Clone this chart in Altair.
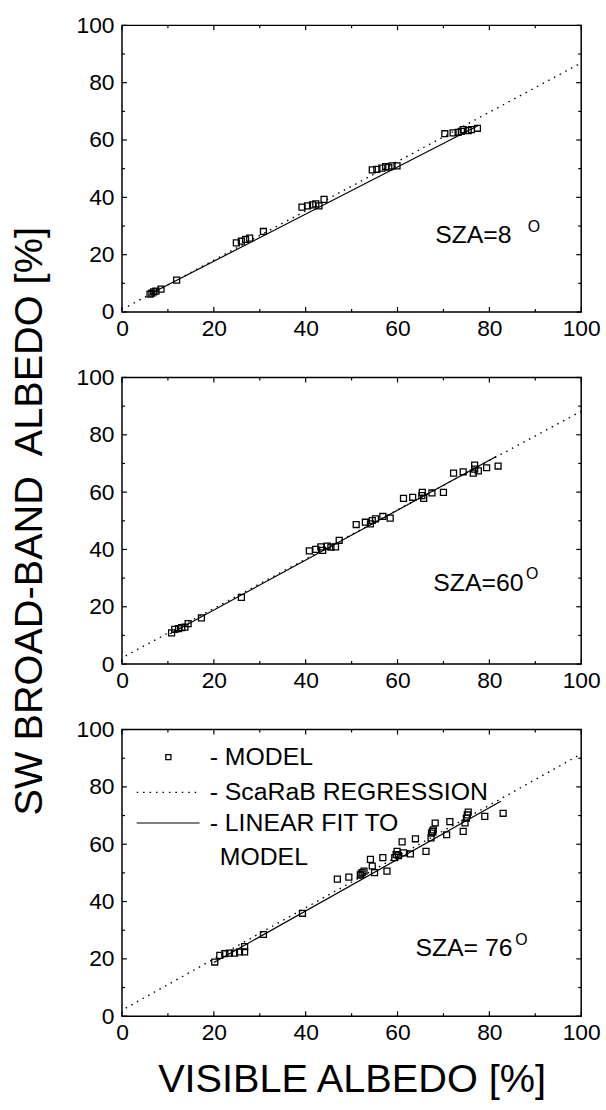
import altair as alt
import pandas as pd

FONT = "Liberation Sans"
W, H = 463, 289
TICKS = [0, 20, 40, 60, 80, 100]
MINOR = [10, 30, 50, 70, 90]

# ---------------- Panel 1 : SZA = 8 deg ----------------
p1_x = [6.1, 6.5, 6.9, 7.4, 8.5, 11.9, 24.9, 26.0, 26.9, 27.8, 30.8, 39.2, 40.4, 41.5,
        42.2, 42.9, 44.0, 54.5, 55.5, 56.6, 57.4, 58.1, 58.8, 59.9, 70.3, 72.1, 73.2,
        73.9, 74.3, 75.4, 76.1, 77.4]
p1_y = [6.2, 6.6, 7.0, 7.3, 8.0, 11.1, 24.1, 24.7, 25.3, 25.8, 28.1, 36.6, 37.0, 37.4,
        37.7, 37.0, 39.3, 49.6, 49.8, 50.2, 50.7, 50.5, 51.0, 51.0, 62.2, 62.5, 62.7,
        63.0, 63.6, 63.3, 63.6, 64.1]
p1_fit_x = [6.0, 77.5]
p1_fit_y = [6.2, 65.0]
p1_reg_x = [1.3, 100.0]
p1_reg_y = [2.0, 86.9]

# ---------------- Panel 2 : SZA = 60 deg ----------------
p2_x = [10.8, 11.5, 12.3, 13.0, 13.7, 14.4, 17.3, 26.0, 40.8, 42.2, 43.3, 43.7, 44.7,
        45.5, 46.5, 47.3, 51.0, 53.0, 54.1, 54.5, 55.2, 56.8, 58.4, 61.3, 63.3, 65.3,
        65.4, 65.7, 67.5, 70.0, 72.2, 74.3, 76.5, 76.8, 76.8, 77.6, 79.4, 81.9]
p2_y = [10.9, 12.1, 12.4, 12.7, 12.9, 14.1, 16.1, 23.3, 39.5, 40.0, 40.9, 39.7, 41.2,
        40.8, 40.9, 43.2, 48.7, 49.5, 48.9, 50.1, 50.7, 51.5, 50.9, 57.8, 58.2, 58.8,
        59.9, 57.8, 59.7, 59.9, 66.6, 67.1, 66.6, 68.0, 69.4, 67.4, 68.5, 69.1]
p2_fit_x = [10.5, 81.5]
p2_fit_y = [10.6, 72.4]
p2_reg_x = [0.8, 100.0]
p2_reg_y = [2.9, 88.2]

# ---------------- Panel 3 : SZA = 76 deg ----------------
p3_x = [20.2, 21.3, 22.4, 23.4, 24.5, 25.6, 26.7, 26.7, 30.8, 39.3, 46.9, 49.4, 51.9,
        52.0, 52.3, 52.7, 54.1, 54.5, 55.0, 56.8, 57.7, 59.4, 59.7, 59.9, 60.2, 61.0,
        61.3, 62.8, 63.9, 66.2, 67.3, 67.4, 67.6, 67.8, 68.2, 70.7, 71.4, 74.3, 74.7,
        75.0, 75.2, 75.4, 79.0, 83.0]
p3_y = [18.9, 21.2, 21.8, 22.0, 22.0, 22.4, 22.4, 24.3, 28.5, 35.9, 47.8, 48.5, 49.2,
        49.6, 50.1, 50.6, 54.7, 52.4, 50.1, 55.3, 50.6, 55.3, 56.4, 57.5, 56.0, 60.8,
        57.0, 56.6, 61.9, 57.5, 62.2, 63.9, 64.5, 65.0, 67.4, 63.3, 67.9, 64.5, 67.4,
        69.1, 70.2, 71.2, 69.7, 70.8]
p3_fit_x = [20.0, 82.5]
p3_fit_y = [18.7, 75.0]
p3_reg_x = [0.8, 100.0]
p3_reg_y = [2.8, 91.5]

SZA_TEXT = ["SZA=8", "SZA=60", "SZA= 76"]
LEGEND_TEXT = ["- MODEL", "- ScaRaB REGRESSION", "- LINEAR FIT TO", "MODEL"]

XS = alt.Scale(domain=[0, 100], nice=False, zero=False)
YS = alt.Scale(domain=[0, 100], nice=False, zero=False)


def axis_x(title):
    return alt.Axis(values=TICKS, domain=False, ticks=False, grid=False,
                    labelFont=FONT, labelFontSize=23, labelColor="black",
                    labelPadding=6, labelFlush=False,
                    titleFont=FONT, titleFontSize=40, titleFontWeight="normal",
                    titleColor="black", titlePadding=15)


def axis_y(title):
    return alt.Axis(values=TICKS, domain=False, ticks=False, grid=False,
                    labelFont=FONT, labelFontSize=23, labelColor="black",
                    labelPadding=8, labelFlush=False,
                    titleFont=FONT, titleFontSize=40, titleFontWeight="normal",
                    titleColor="black", titlePadding=27)


def panel(xs, ys, fx, fy, rx, ry, sza, sza_xy, deg_xy, xtitle=None, ytitle=None,
          legend=False):
    def XE(field="x:Q"):
        return alt.X(field, scale=XS, axis=axis_x(xtitle), title=xtitle)

    def YE(field="y:Q"):
        return alt.Y(field, scale=YS, axis=axis_y(ytitle), title=ytitle)

    pts = alt.Chart(pd.DataFrame({"x": xs, "y": ys})).mark_point(
        shape="square", filled=False, size=36, color="black", strokeWidth=1.3,
        opacity=1
    ).encode(x=XE(), y=YE())
    reg = alt.Chart(pd.DataFrame({"x": rx, "y": ry})).mark_line(
        color="black", strokeWidth=1.4, strokeDash=[1.5, 5]
    ).encode(x=XE(), y=YE())
    fit = alt.Chart(pd.DataFrame({"x": fx, "y": fy})).mark_line(
        color="black", strokeWidth=1.2
    ).encode(x=XE(), y=YE())
    lab = alt.Chart(pd.DataFrame({"t": [sza], "x": [sza_xy[0]], "y": [sza_xy[1]]})).mark_text(
        align="left", baseline="alphabetic", font=FONT, fontSize=25, color="black"
    ).encode(x=XE(), y=YE(), text="t:N")
    deg = alt.Chart(pd.DataFrame({"t": ["O"], "x": [deg_xy[0]], "y": [deg_xy[1]]})).mark_text(
        align="center", baseline="middle", font=FONT, fontSize=16, color="black"
    ).encode(x=XE(), y=YE(), text="t:N")
    layers = [pts, reg, fit, lab, deg]

    maj = pd.DataFrame({"x": TICKS, "y": TICKS})
    mnr = pd.DataFrame({"x": MINOR, "y": MINOR})
    for df, ln in ((maj, 5), (mnr, 3)):
        base = alt.Chart(df).mark_rule(color="black", strokeWidth=1.2)
        layers.append(base.encode(x=XE(), y=alt.value(H), y2=alt.value(H - ln)))
        layers.append(base.encode(x=XE(), y=alt.value(0), y2=alt.value(ln)))
        layers.append(base.encode(y=YE(), x=alt.value(0), x2=alt.value(ln)))
        layers.append(base.encode(y=YE(), x=alt.value(W), x2=alt.value(W - ln)))

    if legend:
        lp = alt.Chart(pd.DataFrame({"x": [10.1], "y": [90.4]})).mark_point(
            shape="square", filled=False, size=26, color="black", strokeWidth=1.3,
            opacity=1
        ).encode(x=XE(), y=YE())
        ld = alt.Chart(pd.DataFrame({"x": [3.2, 16.9], "y": [78.1, 78.1]})).mark_line(
            color="black", strokeWidth=1.4, strokeDash=[1.5, 5]
        ).encode(x=XE(), y=YE())
        ls = alt.Chart(pd.DataFrame({"x": [3.2, 16.9], "y": [67.4, 67.4]})).mark_line(
            color="black", strokeWidth=1.2
        ).encode(x=XE(), y=YE())
        lt = alt.Chart(pd.DataFrame({"t": LEGEND_TEXT,
                                     "x": [19.1, 19.1, 19.1, 21.3],
                                     "y": [90.4, 78.1, 67.4, 55.4]})).mark_text(
            align="left", baseline="middle", font=FONT, fontSize=25, color="black"
        ).encode(x=XE(), y=YE(), text="t:N")
        layers += [lp, ld, ls, lt]
    return alt.layer(*layers).properties(width=W, height=H)


c1 = panel(p1_x, p1_y, p1_fit_x, p1_fit_y, p1_reg_x, p1_reg_y, SZA_TEXT[0],
           (68.2, 24.2), (89.7, 29.8))
c2 = panel(p2_x, p2_y, p2_fit_x, p2_fit_y, p2_reg_x, p2_reg_y, SZA_TEXT[1],
           (67.8, 25.4), (89.3, 31.5), ytitle="SW BROAD-BAND\u00a0 ALBEDO [%]")
c3 = panel(p3_x, p3_y, p3_fit_x, p3_fit_y, p3_reg_x, p3_reg_y, SZA_TEXT[2],
           (63.9, 21.1), (87.0, 26.6), xtitle="VISIBLE ALBEDO [%]", legend=True)

chart = alt.vconcat(c1, c2, c3, spacing=66, bounds="flush").properties(
    background="white",
    padding={"left": 8, "top": 9, "right": 5, "bottom": 5},
).configure_view(stroke="black", strokeWidth=1.5)

chart.save("out.html", embed_options={"renderer": "svg", "actions": False})
